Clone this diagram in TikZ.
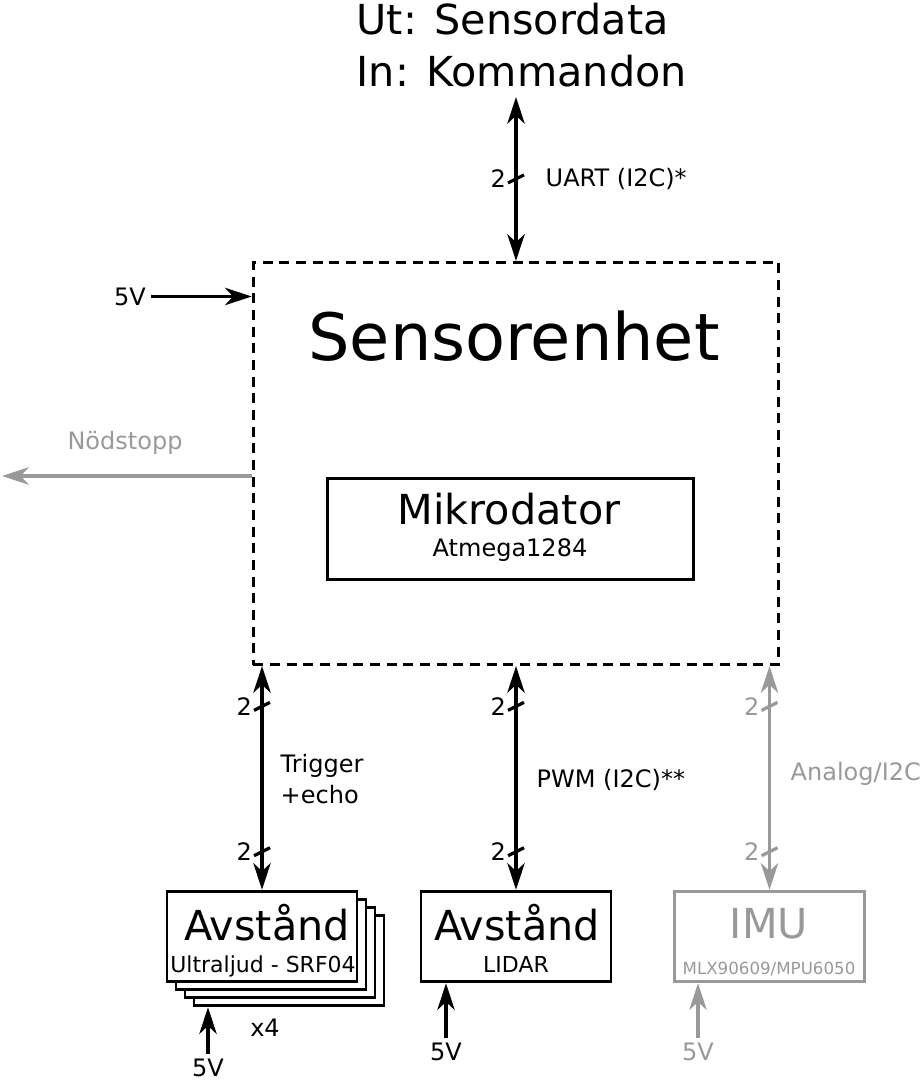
\documentclass[tikz,border=0pt]{standalone}
\usepackage{fontspec}
\setmainfont{DejaVu Sans}
\usepackage{tikz}
\usetikzlibrary{arrows.meta,positioning,calc}
\definecolor{offgray}{HTML}{999999}

\begin{document}
\begin{tikzpicture}[x=0.75pt,y=-0.75pt,
	>={Stealth[length=20pt,width=13pt,inset=6pt]},
	bus/.style={line width=2.6pt,<->},
	wire/.style={line width=2.6pt,->},
	box/.style={draw,line width=2.1pt,fill=white,minimum width=142.5pt,minimum height=68pt,inner sep=0pt},
	big/.style={font=\fontsize{31}{37}\selectfont},
	small/.style={font=\fontsize{18}{22}\selectfont},
	tiny/.style={font=\fontsize{16.5}{20}\selectfont}]
	\useasboundingbox (0,0) rectangle (920,1084);
	% sensor unit
	\node[draw,line width=2.4pt,dash pattern=on 7.5pt off 5pt,minimum width=394pt,minimum height=301.5pt] (sensor) at (516,463.5) {};
	\node[anchor=base,font=\fontsize{49}{58}\selectfont] (title) at (514,360) {Sensorenhet};
	\node[draw,line width=2.1pt,minimum width=275pt,minimum height=76pt] (mcu) at (510.5,529) {};
	\node[big,anchor=base] (mcuname) at (509,524) {Mikrodator};
	\node[small,anchor=base] (mcutype) at (510,556) {Atmega1284};
	% host side
	\node[big,anchor=base west] (ut) at (352,35) {Ut: Sensordata};
	\node[big,anchor=base west] (in) at (352,87) {In: Kommandon};
	\coordinate (host) at (516,97);
	\draw[bus] (sensor.north) -- coordinate[pos=0.5] (s0) (host);
	\node[small,left=4pt of s0] (w0) {2};
	\node[small,anchor=base west] (uart) at (541,187) {UART (I2C)*};
	% power and stop
	\node[small] (vin) at (130,296.5) {5V};
	\draw[wire] (vin.east) -- (vin -| sensor.west);
	\coordinate (stop) at (2,476);
	\draw[wire,offgray] (sensor.west |- stop) -- (stop);
	\node[small,text=offgray,anchor=base] (stoplabel) at (125,449) {Nödstopp};
	% sensors
	\node[box] (ultrad) at (289,960.5) {};
	\node[box] (ultrac) at (280,952.5) {};
	\node[box] (ultrab) at (271,944.5) {};
	\node[box] (ultra) at (262,936.5) {};
	\node[big,anchor=base] (ultraname) at (267,940) {Avstånd};
	\node[tiny,anchor=base] (ultratype) at (263,972) {Ultraljud - SRF04};
	\node[small] (count) at (265,1028) {x4};
	\node[box] (lidar) at (516,936.5) {};
	\node[big,anchor=base] (lidarname) at (517,940) {Avstånd};
	\node[tiny,anchor=base] (lidartype) at (516,972) {LIDAR};
	\node[box,draw=offgray] (imu) at (769.5,936.5) {};
	\node[big,anchor=base,text=offgray] (imuname) at (769,938) {IMU};
	\node[anchor=base,text=offgray,font=\fontsize{12.5}{15}\selectfont] (imutype) at (769,974) {MLX90609/MPU6050};
	% buses
	\draw[bus] (sensor.south -| ultra.north) -- coordinate[pos=0.18] (s1) coordinate[pos=0.83] (s2) (ultra.north);
	\draw[bus] (sensor.south -| lidar.north) -- coordinate[pos=0.18] (s3) coordinate[pos=0.83] (s4) (lidar.north);
	\draw[bus,offgray] (sensor.south -| imu.north) -- coordinate[pos=0.18] (s5) coordinate[pos=0.83] (s6) (imu.north);
	\foreach \s in {s0,s1,s2,s3,s4}
		\draw[line width=2.4pt] ($(\s)+(-8,4)$) -- ($(\s)+(8,-4)$);
	\foreach \s in {s5,s6}
		\draw[line width=2.4pt,offgray] ($(\s)+(-8,4)$) -- ($(\s)+(8,-4)$);
	\node[small,left=4pt of s1] (w1) {2};
	\node[small,left=4pt of s2] (w2) {2};
	\node[small,left=4pt of s3] (w3) {2};
	\node[small,left=4pt of s4] (w4) {2};
	\node[small,text=offgray,left=4pt of s5] (w5) {2};
	\node[small,text=offgray,left=4pt of s6] (w6) {2};
	\node[small,anchor=base west] (trig) at (276,772) {Trigger};
	\node[small,anchor=base west] (echo) at (276,803) {+echo};
	\node[small,anchor=base west] (pwm) at (532,787) {PWM (I2C)**};
	\node[small,anchor=base west,text=offgray] (analog) at (786,780) {Analog/I2C};
	% sensor power
	\node[small] (vu) at (208,1068) {5V};
	\draw[wire] (vu.north) -- (vu |- ultrad.south);
	\node[small] (vl) at (446,1052) {5V};
	\draw[wire] (vl.north) -- (vl |- lidar.south);
	\node[small,text=offgray] (vi) at (698,1052) {5V};
	\draw[wire,offgray] (vi.north) -- (vi |- imu.south);
\end{tikzpicture}
\end{document}
